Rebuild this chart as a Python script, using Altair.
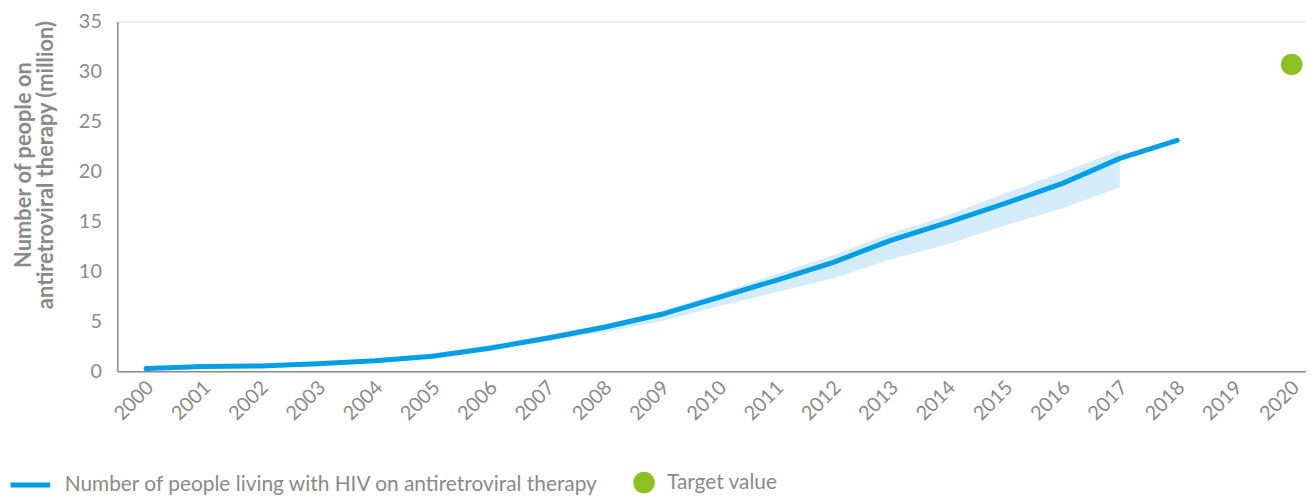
import altair as alt
import pandas as pd

years = list(range(2000, 2019))
art = [0.27, 0.47, 0.53, 0.75, 1.05, 1.5, 2.3, 3.3, 4.4, 5.7, 7.4, 9.1, 10.9, 13.1, 14.9, 16.8, 18.8, 21.3, 23.1]
band_years = list(range(2000, 2018))
lower = [0.2, 0.4, 0.45, 0.65, 0.9, 1.35, 2.1, 3.0, 3.9, 5.0, 6.5, 7.9, 9.3, 11.2, 12.7, 14.6, 16.3, 18.4]
upper = [0.35, 0.55, 0.6, 0.85, 1.2, 1.75, 2.6, 3.6, 4.7, 6.0, 7.8, 9.7, 11.6, 13.8, 15.6, 17.8, 19.9, 22.1]
target_year = [2020]
target_value = [30.7]
year_ticks = list(range(2000, 2021))

line_label = "Number of people living with HIV on antiretroviral therapy"
target_label = "Target value"

BLUE = "#009fe3"
BAND = "#d3ebfa"
GREEN = "#8dc021"
GRAY = "#8a8a8a"
FONT = "Lato"

line_df = pd.DataFrame({"year": years, "value": art, "series": line_label})
band_df = pd.DataFrame({"year": band_years, "lower": lower, "upper": upper})
target_df = pd.DataFrame({"year": target_year, "value": target_value, "series": target_label})

xscale = alt.Scale(domain=[1999.5, 2020.25], nice=False, zero=False)
yscale = alt.Scale(domain=[0, 35], nice=False)

xaxis = alt.Axis(values=year_ticks, format="d", labelAngle=-45, ticks=False, grid=False,
                 labelFontSize=20, labelColor=GRAY, labelFont=FONT, labelFontWeight="normal",
                 domainColor=GRAY, domainWidth=1.5, labelPadding=6, labelOffset=-3, title=None)
yaxis = alt.Axis(values=[0, 5, 10, 15, 20, 25, 30, 35], ticks=False, grid=False,
                 labelFontSize=20, labelColor=GRAY, labelFont=FONT, labelFontWeight="normal",
                 domainColor=GRAY, domainWidth=1.5, labelPadding=16,
                 title=["Number of people on", "antiretroviral therapy (million)"],
                 titleFontSize=22, titleFontWeight="bold", titleColor=GRAY, titleFont=FONT,
                 titleX=-104, titleY=144, titleAngle=-90, titleBaseline="top",
                 titleAlign="center", titleLineHeight=22)

band = alt.Chart(band_df).mark_area(color=BAND, opacity=1).encode(
    x=alt.X("year:Q", scale=xscale, axis=xaxis),
    y=alt.Y("lower:Q", scale=yscale, axis=yaxis),
    y2="upper:Q",
)

line = alt.Chart(line_df).mark_line(strokeWidth=5, strokeCap="round").encode(
    x=alt.X("year:Q", scale=xscale),
    y=alt.Y("value:Q", scale=yscale),
    color=alt.Color("series:N", scale=alt.Scale(domain=[line_label], range=[BLUE]),
                    legend=alt.Legend(title=None, orient="none", legendX=-110, legendY=444,
                                      symbolType="stroke", symbolSize=1600, symbolStrokeWidth=5,
                                      labelFontSize=21, labelColor=GRAY, labelFont=FONT,
                                      labelFontWeight="normal", labelOffset=12, labelLimit=800)),
)

target = alt.Chart(target_df).mark_point(filled=True, size=470, opacity=1).encode(
    x=alt.X("year:Q", scale=xscale),
    y=alt.Y("value:Q", scale=yscale),
    fill=alt.Fill("series:N", scale=alt.Scale(domain=[target_label], range=[GREEN]),
                  legend=alt.Legend(title=None, orient="none", legendX=519, legendY=453,
                                    symbolType="circle", symbolSize=470, symbolStrokeWidth=0,
                                    labelFontSize=21, labelColor=GRAY, labelFont=FONT,
                                    labelFontWeight="normal", labelOffset=12)),
)

chart = alt.layer(band, line, target).resolve_scale(color="independent").properties(
    width=1196, height=352,
    autosize=alt.AutoSizeParams(type="none"),
    padding={"left": 110, "top": 12, "right": 0, "bottom": 123},
).configure_view(strokeWidth=0).configure(background="white")

chart.save("out.html", embed_options={"renderer": "svg", "actions": False})
